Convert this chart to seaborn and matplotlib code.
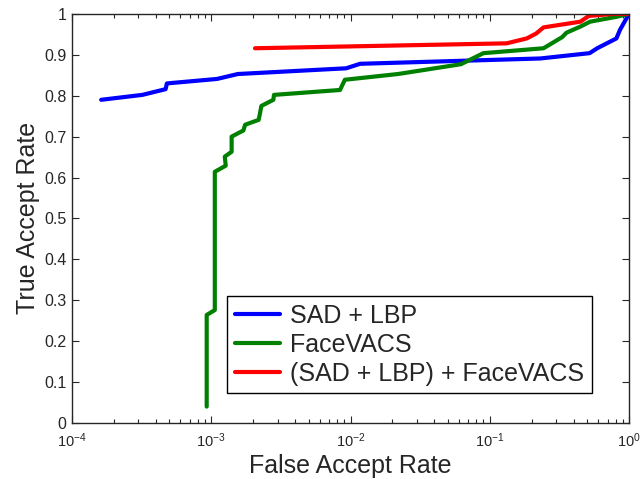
import numpy as np
import pandas as pd
import seaborn as sns
import matplotlib.pyplot as plt
from matplotlib.ticker import LogLocator, FixedLocator, NullFormatter

# ROC curve points (FAR, TAR)
sad_lbp_far = [1.62e-4, 3.2e-4, 4.7e-4, 4.8e-4, 1.1e-3, 1.55e-3, 9.3e-3, 1.17e-2,
               0.23, 0.52, 0.59, 0.81, 0.86, 0.99]
sad_lbp_tar = [0.79, 0.802, 0.816, 0.830, 0.841, 0.853, 0.867, 0.878,
               0.891, 0.904, 0.916, 0.940, 0.961, 0.998]

facevacs_far = [9.27e-4, 9.27e-4, 1.06e-3, 1.06e-3, 1.27e-3, 1.25e-3, 1.40e-3, 1.40e-3,
                1.70e-3, 1.75e-3, 2.19e-3, 2.29e-3, 2.79e-3, 2.82e-3, 8.4e-3, 9.1e-3,
                1.17e-2, 2.19e-2, 6.2e-2, 9.0e-2, 0.243, 0.33, 0.355, 0.447, 0.525,
                0.815, 0.99]
facevacs_tar = [0.04, 0.264, 0.276, 0.614, 0.629, 0.651, 0.663, 0.700,
                0.715, 0.729, 0.741, 0.775, 0.790, 0.802, 0.814, 0.839,
                0.843, 0.853, 0.877, 0.904, 0.916, 0.943, 0.954, 0.969, 0.981,
                0.993, 1.0]

combined_far = [2.06e-3, 1.17e-2, 0.132, 0.184, 0.215, 0.243, 0.447, 0.513, 0.776, 0.99]
combined_tar = [0.916, 0.921, 0.928, 0.940, 0.952, 0.967, 0.981, 0.995, 1.0, 1.0]

labels = ["SAD + LBP", "FaceVACS", "(SAD + LBP) + FaceVACS"]
colors = ["#0000ff", "#008000", "#ff0000"]

frames = []
for name, far, tar in zip(labels,
                          [sad_lbp_far, facevacs_far, combined_far],
                          [sad_lbp_tar, facevacs_tar, combined_tar]):
    d = pd.DataFrame({"far": far, "tar": tar})
    d["method"] = name
    frames.append(d)
df = pd.concat(frames, ignore_index=True)

sns.set_style("ticks")
plt.rcParams["font.family"] = ["Liberation Sans", "DejaVu Sans"]
plt.rcParams["mathtext.fontset"] = "custom"
plt.rcParams["mathtext.rm"] = "Liberation Sans"
plt.rcParams["mathtext.it"] = "Liberation Sans"

fig = plt.figure(figsize=(6.4, 4.79), dpi=100)
ax = fig.add_axes([0.1125, 0.117, 0.8705, 0.854])

sns.lineplot(data=df, x="far", y="tar", hue="method", hue_order=labels,
             palette=colors, sort=False, estimator=None, linewidth=3, ax=ax)

ax.set_xscale("log")
ax.set_xlim(1e-4, 1)
ax.set_ylim(0, 1)
ax.set_xticks([1e-4, 1e-3, 1e-2, 1e-1, 1])
ax.set_xticklabels([r"$10^{-4}$", r"$10^{-3}$", r"$10^{-2}$", r"$10^{-1}$", r"$10^{0}$"])
ax.xaxis.set_minor_locator(LogLocator(base=10, subs=np.arange(2, 10)))
ax.xaxis.set_minor_formatter(NullFormatter())
ax.yaxis.set_major_locator(FixedLocator(np.round(np.arange(0, 1.01, 0.1), 1)))
ax.set_yticklabels(["0", "0.1", "0.2", "0.3", "0.4", "0.5", "0.6", "0.7", "0.8", "0.9", "1"])

ax.tick_params(which="both", direction="in", top=True, right=True, width=0.8)
ax.tick_params(which="major", length=5)
ax.tick_params(which="minor", length=3)
ax.tick_params(axis="x", labelsize=10.5, pad=6)
ax.tick_params(axis="y", labelsize=11.5, pad=4)
for s in ax.spines.values():
    s.set_linewidth(1.0)

ax.set_xlabel("False Accept Rate", fontsize=18, labelpad=3)
ax.set_ylabel("True Accept Rate", fontsize=18, labelpad=3)

leg = ax.legend(loc="lower left", bbox_to_anchor=(0.279, 0.073), fontsize=18,
                frameon=True, fancybox=False, edgecolor="black", framealpha=1,
                handlelength=1.8, handletextpad=0.4, borderpad=0.3, labelspacing=0.2,
                borderaxespad=0)
leg.get_frame().set_linewidth(1.0)

fig.savefig("out.png", dpi=100)
